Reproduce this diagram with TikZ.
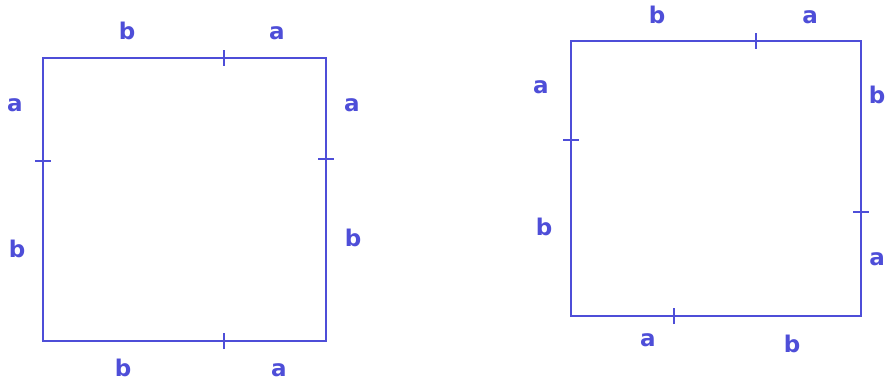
\documentclass[tikz,border=0pt]{standalone}
\usepackage{fontspec}
\setmainfont{DejaVu Sans}
\definecolor{edgeblue}{RGB}{78,78,216}
\begin{document}
\begin{tikzpicture}[x=1pt,y=-1pt,
  side/.style={draw=edgeblue,line width=1.8pt},
  tick/.style={draw=edgeblue,line width=1.4pt},
  lbl/.style={text=edgeblue,font=\fontsize{23}{23}\selectfont\bfseries,inner sep=0pt,anchor=center}]
\useasboundingbox (0,0) rectangle (886,382);
% left square
\coordinate (A1) at (43,58);
\coordinate (B1) at (326,58);
\coordinate (C1) at (326,341);
\coordinate (D1) at (43,341);
\draw[side] (A1) -- (B1) -- (C1) -- (D1) -- cycle;
\coordinate (t1) at (224,58);
\coordinate (r1) at (326,159);
\coordinate (b1) at (224,341);
\coordinate (l1) at (43,161);
\draw[tick] ([yshift=-8]t1) -- ([yshift=8]t1);
\draw[tick] ([xshift=-8]r1) -- ([xshift=8]r1);
\draw[tick] ([yshift=-8]b1) -- ([yshift=8]b1);
\draw[tick] ([xshift=-8]l1) -- ([xshift=8]l1);
\node[lbl] (l1tb) at (127,31) {b};
\node[lbl] (l1ta) at (277,33) {a};
\node[lbl] (l1la) at (15,105) {a};
\node[lbl] (l1lb) at (17,249) {b};
\node[lbl] (l1ra) at (352,105) {a};
\node[lbl] (l1rb) at (353,238) {b};
\node[lbl] (l1bb) at (123,368) {b};
\node[lbl] (l1ba) at (279,370) {a};
% right square
\coordinate (A2) at (571,41);
\coordinate (B2) at (861,41);
\coordinate (C2) at (861,316);
\coordinate (D2) at (571,316);
\draw[side] (A2) -- (B2) -- (C2) -- (D2) -- cycle;
\coordinate (t2) at (756,41);
\coordinate (r2) at (861,212);
\coordinate (b2) at (674,316);
\coordinate (l2) at (571,140);
\draw[tick] ([yshift=-8]t2) -- ([yshift=8]t2);
\draw[tick] ([xshift=-8]r2) -- ([xshift=8]r2);
\draw[tick] ([yshift=-8]b2) -- ([yshift=8]b2);
\draw[tick] ([xshift=-8]l2) -- ([xshift=8]l2);
\node[lbl] (r2tb) at (657,15) {b};
\node[lbl] (r2ta) at (810,17) {a};
\node[lbl] (r2la) at (541,87) {a};
\node[lbl] (r2lb) at (544,227) {b};
\node[lbl] (r2rb) at (877,95) {b};
\node[lbl] (r2ra) at (877,259) {a};
\node[lbl] (r2ba) at (648,340) {a};
\node[lbl] (r2bb) at (792,344) {b};
\end{tikzpicture}
\end{document}
